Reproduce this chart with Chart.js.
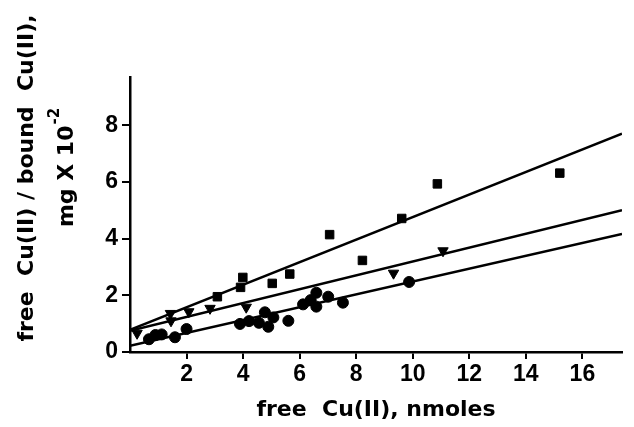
<!DOCTYPE html>
<html>
<head>
<meta charset="utf-8">
<script src="https://cdn.jsdelivr.net/npm/chart.js@4"></script>
<style>
  html, body { margin: 0; padding: 0; background: #fff; }
  #wrap { width: 634px; height: 427px; position: relative; }
</style>
</head>
<body>
<div id="wrap"><canvas id="chart"></canvas></div>
<script>
// valores
const squareX = [3.09, 3.91, 3.99, 5.03, 5.65, 7.06, 8.22, 9.61, 10.87, 15.2];
const squareY = [1.95, 2.28, 2.63, 2.42, 2.75, 4.14, 3.23, 4.71, 5.93, 6.31];
const triX = [0.25, 1.43, 1.45, 2.08, 2.83, 4.11, 9.32, 11.07];
const triY = [0.66, 1.36, 1.1, 1.42, 1.54, 1.58, 2.78, 3.57];
const circleX = [0.67, 0.9, 1.12, 1.59, 2.0, 3.89, 4.21, 4.56, 4.77, 4.89, 5.07, 5.6, 6.12, 6.39, 6.59, 6.59, 7.01, 7.53, 9.87];
const circleY = [0.45, 0.6, 0.62, 0.52, 0.81, 0.99, 1.09, 1.03, 1.4, 0.89, 1.22, 1.1, 1.68, 1.83, 2.09, 1.6, 1.95, 1.74, 2.47];

// rectas de ajuste (extremos)
const fitX = [0, 17.4];
const squareFit = [0.78, 7.7];
const triFit = [0.75, 5.0];
const circleFit = [0.22, 4.16];

const xTicks = [2, 4, 6, 8, 10, 12, 14, 16];
const yTicks = [0, 2, 4, 6, 8];

const xTitle = 'free  Cu(II), nmoles';
const yTitle1 = 'free  Cu(II) / bound  Cu(II),';
const yTitle2 = 'mg X 10';
const yTitleExp = '-2';

const pts = (xs, ys) => xs.map((x, i) => ({ x, y: ys[i] }));
const FONT = '"Liberation Sans", Arial, sans-serif';
const TFONT = '"DejaVu Sans", sans-serif';

const titles = {
  id: 'titles',
  afterDraw(chart) {
    const ctx = chart.ctx;
    ctx.save();
    ctx.fillStyle = '#000';
    ctx.textBaseline = 'middle';
    ctx.font = 'bold 22px ' + TFONT;
    // eje x
    ctx.textAlign = 'center';
    ctx.fillText(xTitle, 376, 410);
    // eje y
    ctx.translate(27, 178);
    ctx.rotate(-Math.PI / 2);
    ctx.fillText(yTitle1, 0, 0);
    ctx.restore();

    ctx.save();
    ctx.fillStyle = '#000';
    ctx.textBaseline = 'middle';
    ctx.translate(67, 168);
    ctx.rotate(-Math.PI / 2);
    ctx.font = 'bold 22px ' + TFONT;
    const w1 = ctx.measureText(yTitle2).width;
    ctx.font = 'bold 15px ' + TFONT;
    const w2 = ctx.measureText(yTitleExp).width;
    const start = -(w1 + w2) / 2;
    ctx.textAlign = 'left';
    ctx.font = 'bold 22px ' + TFONT;
    ctx.fillText(yTitle2, start, 0);
    ctx.font = 'bold 15px ' + TFONT;
    ctx.fillText(yTitleExp, start + w1 + 1, -12);
    ctx.restore();
  }
};

const lineDs = (ys) => ({
  type: 'line',
  data: pts(fitX, ys),
  borderColor: '#000',
  borderWidth: 2.5,
  pointRadius: 0,
  showLine: true,
  fill: false
});

new Chart(document.getElementById('chart'), {
  type: 'scatter',
  data: {
    datasets: [
      lineDs(squareFit),
      lineDs(triFit),
      lineDs(circleFit),
      { data: pts(squareX, squareY), pointStyle: 'rect', pointRadius: 6, backgroundColor: '#000', borderColor: '#000' },
      { data: pts(triX, triY), pointStyle: 'triangle', rotation: 180, pointRadius: 6, backgroundColor: '#000', borderColor: '#000' },
      { data: pts(circleX, circleY), pointStyle: 'circle', pointRadius: 5.5, backgroundColor: '#000', borderColor: '#000' }
    ]
  },
  options: {
    responsive: true,
    maintainAspectRatio: false,
    animation: false,
    layout: { padding: { top: 77, right: 12, left: 0, bottom: 0 } },
    plugins: { legend: { display: false }, tooltip: { enabled: false } },
    scales: {
      x: {
        type: 'linear',
        min: 0, max: 17.4,
        afterBuildTicks: (s) => { s.ticks = xTicks.map(v => ({ value: v })); },
        afterFit: (s) => { s.height = 75; },
        grid: { drawOnChartArea: false, drawTicks: true, tickLength: 7, color: '#000', lineWidth: 2 },
        border: { display: true, color: '#000', width: 2.5 },
        ticks: { color: '#000', font: { family: FONT, size: 23, weight: 'bold' }, padding: 2, maxRotation: 0 }
      },
      y: {
        type: 'linear',
        min: 0, max: 9.7,
        afterBuildTicks: (s) => { s.ticks = yTicks.map(v => ({ value: v })); },
        afterFit: (s) => { s.width = 130; },
        grid: { drawOnChartArea: false, drawTicks: true, tickLength: 8, color: '#000', lineWidth: 2 },
        border: { display: true, color: '#000', width: 2.5 },
        ticks: { color: '#000', font: { family: FONT, size: 23, weight: 'bold' }, padding: 4 }
      }
    }
  },
  plugins: [titles]
});
</script>
</body>
</html>
